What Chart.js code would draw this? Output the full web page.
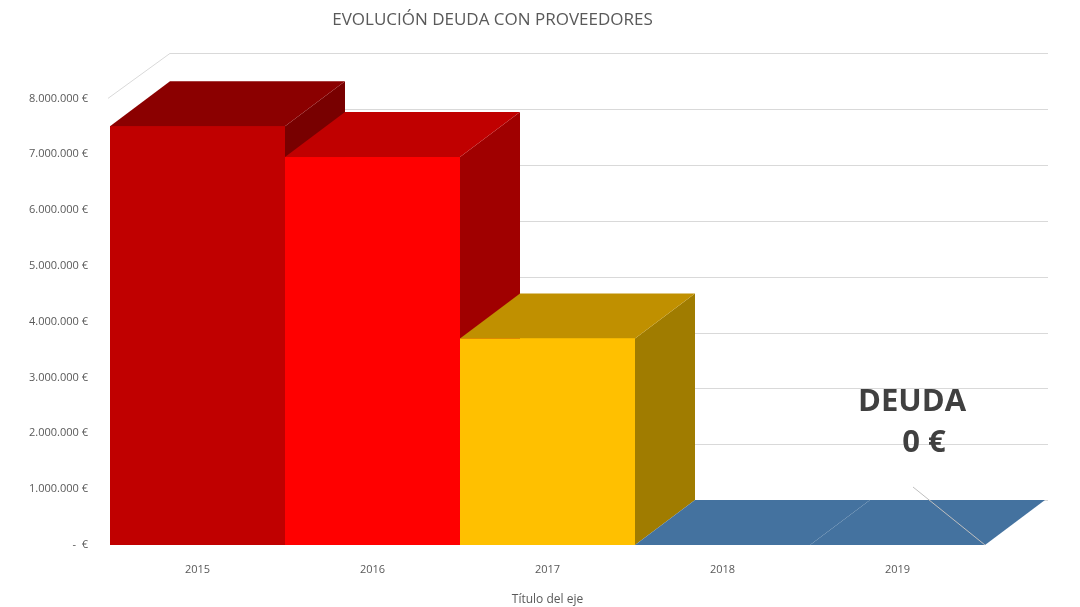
<!DOCTYPE html>
<html>
<head>
<meta charset="utf-8">
<script src="https://cdn.jsdelivr.net/npm/chart.js@4.4.1/dist/chart.umd.min.js"></script>
<style>
  html, body { margin: 0; padding: 0; background: #fff; }
  #wrap { width: 1080px; height: 607px; }
</style>
</head>
<body>
<div id="wrap"><canvas id="c" width="1080" height="607"></canvas></div>
<script>
// datos
const years = ['2015', '2016', '2017', '2018', '2019'];
const deuda = [7500000, 6950000, 3700000, 0, 0];
const frontColors = ['#C00000', '#FF0000', '#FFC000', '#44729F', '#44729F'];
const topColors = ['#8B0000', '#C00000', '#C09000', '#44729F', '#44729F'];
const sideColors = ['#780000', '#A00000', '#A07C00', '#3A628A', '#3A628A'];

// profundidad 3D
const DX = 60, DY = -45;

function fmtEuro(v) {
  if (v === 0) return '-  €';
  return v.toLocaleString('de-DE') + ' €';
}

const bars3d = {
  id: 'bars3d',
  beforeDatasetsDraw(chart) {
    const ctx = chart.ctx;
    const y = chart.scales.y;
    const area = chart.chartArea;
    ctx.save();
    ctx.strokeStyle = '#D9D9D9';
    ctx.lineWidth = 1;
    // pared de fondo: lineas de cuadricula
    y.ticks.forEach(t => {
      const py = Math.round(y.getPixelForValue(t.value) + DY) + 0.5;
      ctx.beginPath();
      ctx.moveTo(area.left + DX, py);
      ctx.lineTo(1048, py);
      ctx.stroke();
    });
    // arista lateral superior
    const top = y.getPixelForValue(8000000);
    ctx.beginPath();
    ctx.moveTo(area.left - 2, top);
    ctx.lineTo(area.left + DX, top + DY);
    ctx.stroke();
    ctx.restore();
  },
  afterDatasetsDraw(chart) {
    const ctx = chart.ctx;
    const meta = chart.getDatasetMeta(0);
    ctx.save();
    meta.data.forEach((bar, i) => {
      const l = bar.x - bar.width / 2, r = bar.x + bar.width / 2;
      const t = bar.y, b = bar.base;
      // lateral
      ctx.fillStyle = sideColors[i];
      ctx.beginPath();
      ctx.moveTo(r, t); ctx.lineTo(r + DX, t + DY);
      ctx.lineTo(r + DX, b + DY); ctx.lineTo(r, b);
      ctx.closePath(); ctx.fill();
      // tapa
      ctx.fillStyle = topColors[i];
      ctx.beginPath();
      ctx.moveTo(l, t); ctx.lineTo(r, t);
      ctx.lineTo(r + DX, t + DY); ctx.lineTo(l + DX, t + DY);
      ctx.closePath(); ctx.fill();
      // frente
      ctx.fillStyle = frontColors[i];
      ctx.fillRect(l, t, r - l, b - t);
    });
    // anotacion
    ctx.strokeStyle = '#BFBFBF';
    ctx.lineWidth = 1;
    ctx.beginPath();
    ctx.moveTo(913, 487);
    ctx.lineTo(985, 545);
    ctx.stroke();
    ctx.fillStyle = '#404040';
    ctx.font = 'bold 31px "Open Sans", sans-serif';
    ctx.textAlign = 'center';
    ctx.textBaseline = 'middle';
    ctx.fillText('DEUDA', 912, 402);
    ctx.fillText('0 €', 924, 443);
    ctx.restore();
  }
};

new Chart(document.getElementById('c'), {
  type: 'bar',
  data: {
    labels: years,
    datasets: [{
      data: deuda,
      backgroundColor: frontColors,
      borderWidth: 0,
      categoryPercentage: 1,
      barPercentage: 1
    }]
  },
  options: {
    responsive: false,
    animation: false,
    layout: { padding: { left: 0, right: 95, top: 0, bottom: 0 } },
    plugins: {
      legend: { display: false },
      tooltip: { enabled: false },
      title: {
        display: true,
        text: 'EVOLUCIÓN DEUDA CON PROVEEDORES',
        color: '#595959',
        font: { family: '"Open Sans", sans-serif', size: 17, weight: 'normal' },
        padding: { top: 10, bottom: 68 }
      }
    },
    scales: {
      x: {
        grid: { display: false },
        border: { display: false },
        ticks: { color: '#595959', font: { family: '"Open Sans", sans-serif', size: 11 }, padding: 10 },
        title: { display: true, text: 'Título del eje', color: '#595959',
                 font: { family: '"Open Sans", sans-serif', size: 12 }, padding: { top: 4, bottom: 0 } },
        afterFit: s => { s.height = 62; }
      },
      y: {
        min: 0,
        max: 8000000,
        grid: { display: false },
        border: { display: false },
        ticks: {
          stepSize: 1000000,
          color: '#595959',
          padding: 14,
          font: { family: '"Open Sans", sans-serif', size: 11 },
          callback: v => fmtEuro(v)
        },
        afterFit: s => { s.width = 110; }
      }
    }
  },
  plugins: [bars3d]
});
</script>
</body>
</html>
